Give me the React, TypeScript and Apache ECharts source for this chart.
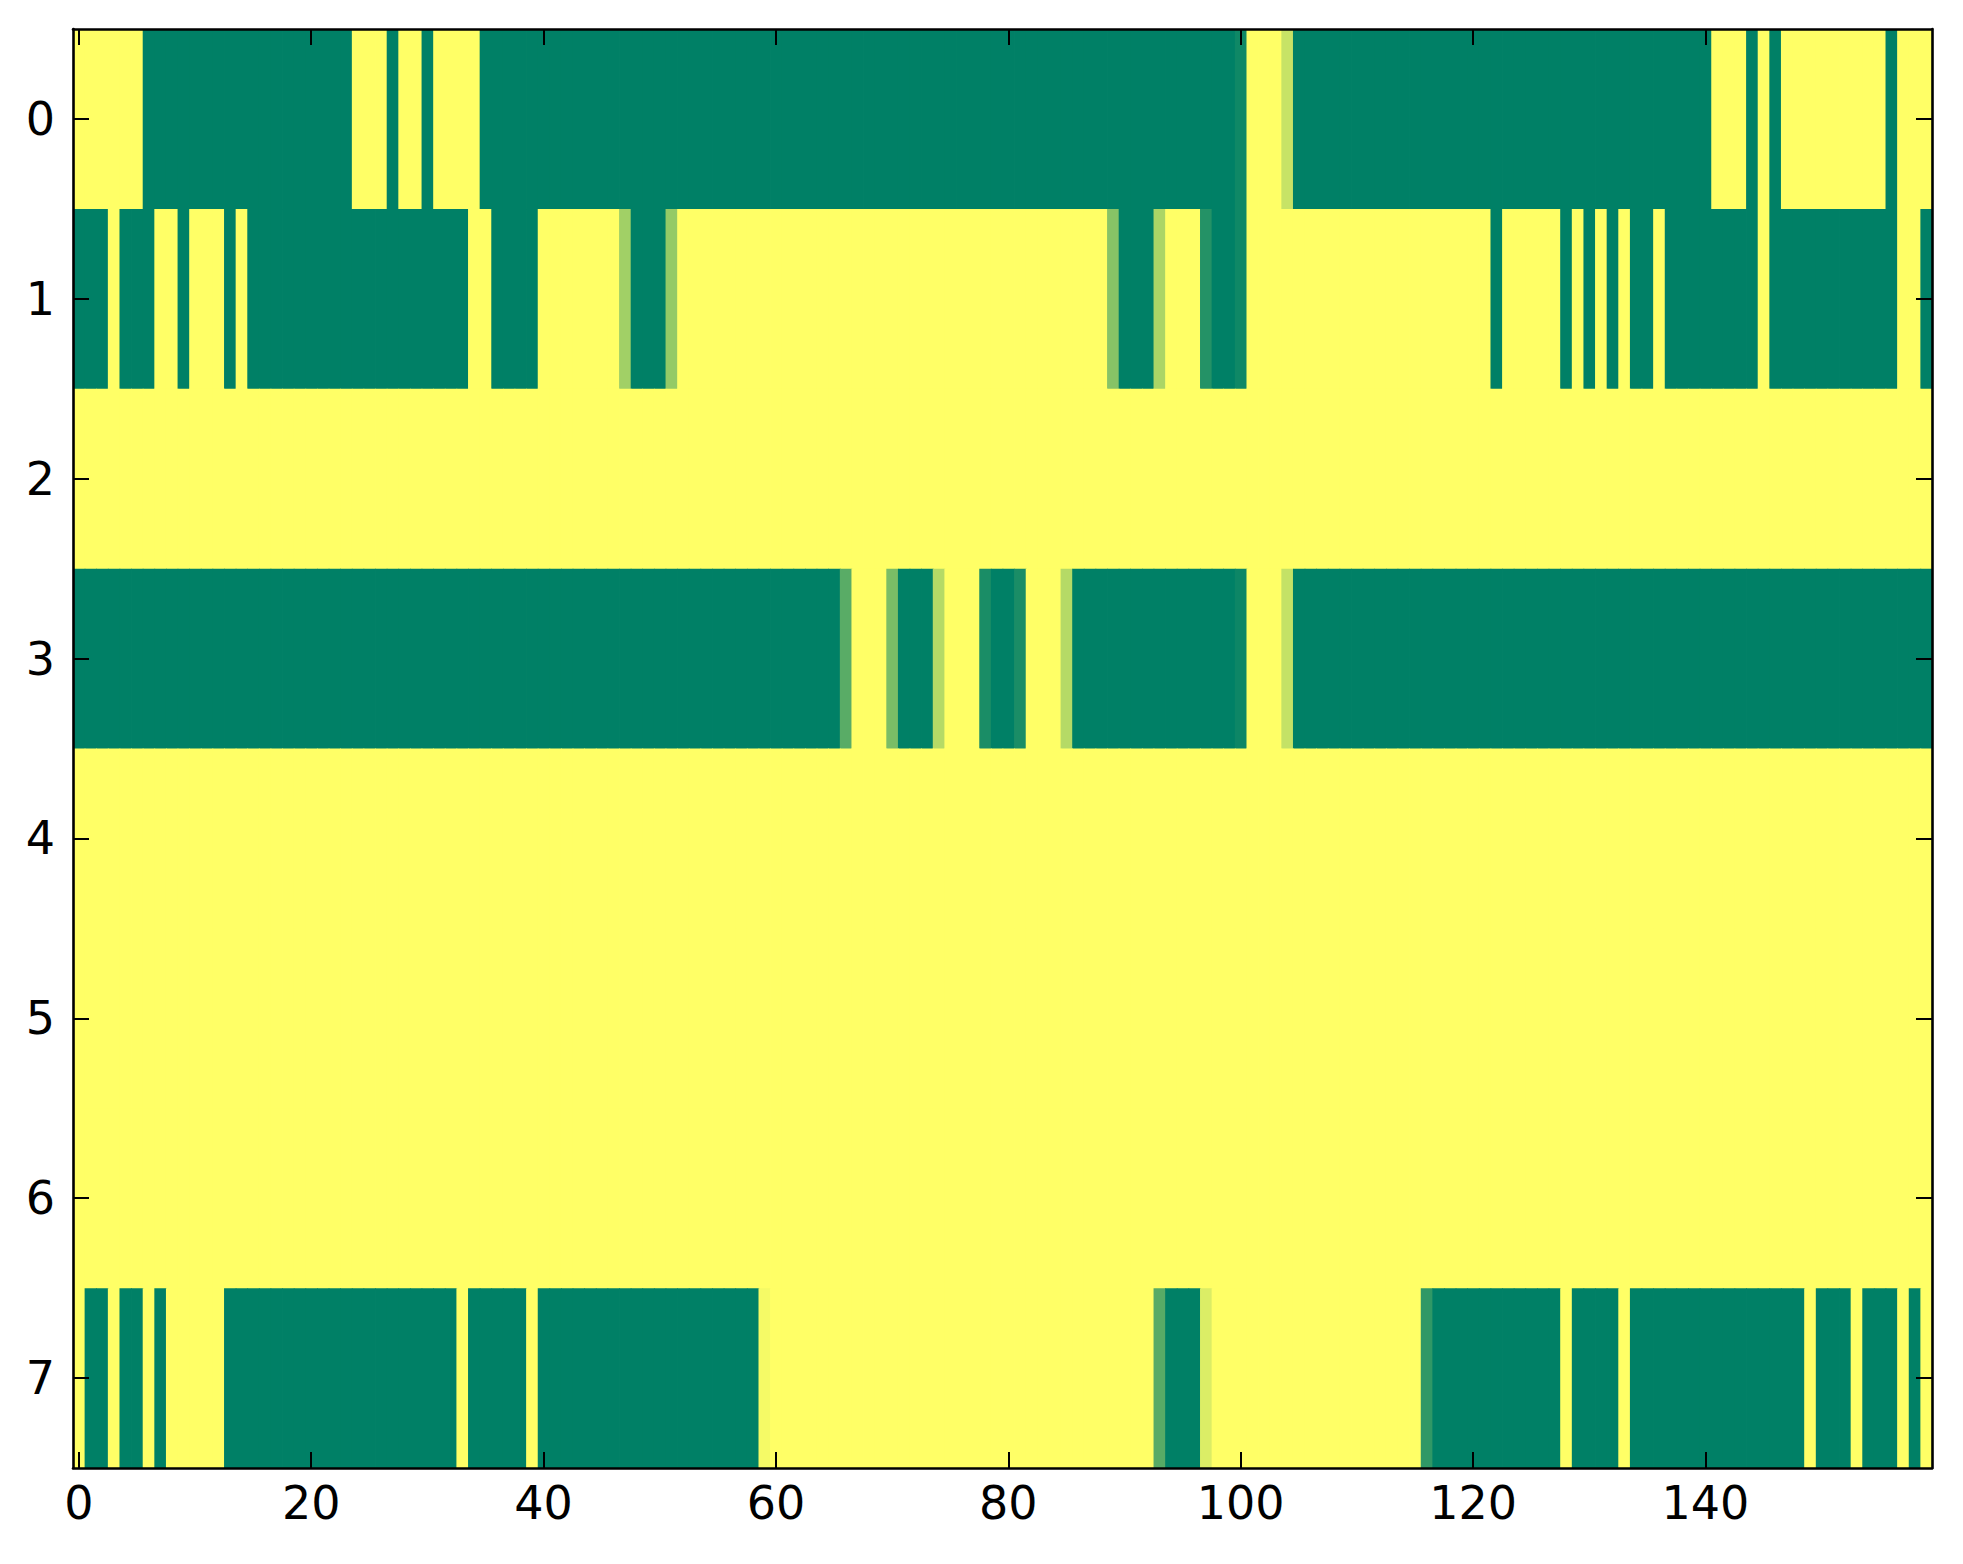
import React, { useEffect, useRef } from "react";
import * as echarts from "echarts";

const xCategories: string[] = [];
for (let i = 0; i < 160; i++) xCategories.push(String(i));
const yCategories = ["0", "1", "2", "3", "4", "5", "6", "7"];

const row0 = [
  1, 1, 1, 1, 1, 1, 0, 0, 0, 0, 0, 0, 0, 0, 0, 0, 0, 0, 0, 0,
  0, 0, 0, 0, 1, 1, 1, 0, 1, 1, 0, 1, 1, 1, 1, 0, 0, 0, 0, 0,
  0, 0, 0, 0, 0, 0, 0, 0, 0, 0, 0, 0, 0, 0, 0, 0, 0, 0, 0, 0,
  0, 0, 0, 0, 0, 0, 0, 0, 0, 0, 0, 0, 0, 0, 0, 0, 0, 0, 0, 0,
  0, 0, 0, 0, 0, 0, 0, 0, 0, 0, 0, 0, 0, 0, 0, 0, 0, 0, 0, 0,
  0.06, 1, 1, 1, 0.78, 0, 0, 0, 0, 0, 0, 0, 0, 0, 0, 0, 0, 0, 0, 0,
  0, 0, 0, 0, 0, 0, 0, 0, 0, 0, 0, 0, 0, 0, 0, 0, 0, 0, 0, 0,
  0, 1, 1, 1, 0, 1, 0, 1, 1, 1, 1, 1, 1, 1, 1, 1, 0, 1, 1, 1,
];
const row1 = [
  0, 0, 0, 1, 0, 0, 0, 1, 1, 0, 1, 1, 1, 0, 1, 0, 0, 0, 0, 0,
  0, 0, 0, 0, 0, 0, 0, 0, 0, 0, 0, 0, 0, 0, 1, 1, 0, 0, 0, 0,
  1, 1, 1, 1, 1, 1, 1, 0.63, 0, 0, 0, 0.58, 1, 1, 1, 1, 1, 1, 1, 1,
  1, 1, 1, 1, 1, 1, 1, 1, 1, 1, 1, 1, 1, 1, 1, 1, 1, 1, 1, 1,
  1, 1, 1, 1, 1, 1, 1, 1, 1, 0.53, 0, 0, 0, 0.67, 1, 1, 1, 0.14, 0, 0,
  0.06, 1, 1, 1, 1, 1, 1, 1, 1, 1, 1, 1, 1, 1, 1, 1, 1, 1, 1, 1,
  1, 1, 0, 1, 1, 1, 1, 1, 0, 1, 0, 1, 0, 1, 0, 0, 1, 0, 0, 0,
  0, 0, 0, 0, 0, 1, 0, 0, 0, 0, 0, 0, 0, 0, 0, 0, 0, 1, 1, 0,
];
const row2 = [
  1, 1, 1, 1, 1, 1, 1, 1, 1, 1, 1, 1, 1, 1, 1, 1, 1, 1, 1, 1,
  1, 1, 1, 1, 1, 1, 1, 1, 1, 1, 1, 1, 1, 1, 1, 1, 1, 1, 1, 1,
  1, 1, 1, 1, 1, 1, 1, 1, 1, 1, 1, 1, 1, 1, 1, 1, 1, 1, 1, 1,
  1, 1, 1, 1, 1, 1, 1, 1, 1, 1, 1, 1, 1, 1, 1, 1, 1, 1, 1, 1,
  1, 1, 1, 1, 1, 1, 1, 1, 1, 1, 1, 1, 1, 1, 1, 1, 1, 1, 1, 1,
  1, 1, 1, 1, 1, 1, 1, 1, 1, 1, 1, 1, 1, 1, 1, 1, 1, 1, 1, 1,
  1, 1, 1, 1, 1, 1, 1, 1, 1, 1, 1, 1, 1, 1, 1, 1, 1, 1, 1, 1,
  1, 1, 1, 1, 1, 1, 1, 1, 1, 1, 1, 1, 1, 1, 1, 1, 1, 1, 1, 1,
];
const row3 = [
  0, 0, 0, 0, 0, 0, 0, 0, 0, 0, 0, 0, 0, 0, 0, 0, 0, 0, 0, 0,
  0, 0, 0, 0, 0, 0, 0, 0, 0, 0, 0, 0, 0, 0, 0, 0, 0, 0, 0, 0,
  0, 0, 0, 0, 0, 0, 0, 0, 0, 0, 0, 0, 0, 0, 0, 0, 0, 0, 0, 0,
  0, 0, 0, 0, 0, 0, 0.35, 1, 1, 1, 0.48, 0, 0, 0, 0.71, 1, 1, 1, 0.1, 0,
  0, 0.1, 1, 1, 1, 0.71, 0, 0, 0, 0, 0, 0, 0, 0, 0, 0, 0, 0, 0, 0,
  0.05, 1, 1, 1, 0.77, 0, 0, 0, 0, 0, 0, 0, 0, 0, 0, 0, 0, 0, 0, 0,
  0, 0, 0, 0, 0, 0, 0, 0, 0, 0, 0, 0, 0, 0, 0, 0, 0, 0, 0, 0,
  0, 0, 0, 0, 0, 0, 0, 0, 0, 0, 0, 0, 0, 0, 0, 0, 0, 0, 0, 0,
];
const row4 = [
  1, 1, 1, 1, 1, 1, 1, 1, 1, 1, 1, 1, 1, 1, 1, 1, 1, 1, 1, 1,
  1, 1, 1, 1, 1, 1, 1, 1, 1, 1, 1, 1, 1, 1, 1, 1, 1, 1, 1, 1,
  1, 1, 1, 1, 1, 1, 1, 1, 1, 1, 1, 1, 1, 1, 1, 1, 1, 1, 1, 1,
  1, 1, 1, 1, 1, 1, 1, 1, 1, 1, 1, 1, 1, 1, 1, 1, 1, 1, 1, 1,
  1, 1, 1, 1, 1, 1, 1, 1, 1, 1, 1, 1, 1, 1, 1, 1, 1, 1, 1, 1,
  1, 1, 1, 1, 1, 1, 1, 1, 1, 1, 1, 1, 1, 1, 1, 1, 1, 1, 1, 1,
  1, 1, 1, 1, 1, 1, 1, 1, 1, 1, 1, 1, 1, 1, 1, 1, 1, 1, 1, 1,
  1, 1, 1, 1, 1, 1, 1, 1, 1, 1, 1, 1, 1, 1, 1, 1, 1, 1, 1, 1,
];
const row5 = [
  1, 1, 1, 1, 1, 1, 1, 1, 1, 1, 1, 1, 1, 1, 1, 1, 1, 1, 1, 1,
  1, 1, 1, 1, 1, 1, 1, 1, 1, 1, 1, 1, 1, 1, 1, 1, 1, 1, 1, 1,
  1, 1, 1, 1, 1, 1, 1, 1, 1, 1, 1, 1, 1, 1, 1, 1, 1, 1, 1, 1,
  1, 1, 1, 1, 1, 1, 1, 1, 1, 1, 1, 1, 1, 1, 1, 1, 1, 1, 1, 1,
  1, 1, 1, 1, 1, 1, 1, 1, 1, 1, 1, 1, 1, 1, 1, 1, 1, 1, 1, 1,
  1, 1, 1, 1, 1, 1, 1, 1, 1, 1, 1, 1, 1, 1, 1, 1, 1, 1, 1, 1,
  1, 1, 1, 1, 1, 1, 1, 1, 1, 1, 1, 1, 1, 1, 1, 1, 1, 1, 1, 1,
  1, 1, 1, 1, 1, 1, 1, 1, 1, 1, 1, 1, 1, 1, 1, 1, 1, 1, 1, 1,
];
const row6 = [
  1, 1, 1, 1, 1, 1, 1, 1, 1, 1, 1, 1, 1, 1, 1, 1, 1, 1, 1, 1,
  1, 1, 1, 1, 1, 1, 1, 1, 1, 1, 1, 1, 1, 1, 1, 1, 1, 1, 1, 1,
  1, 1, 1, 1, 1, 1, 1, 1, 1, 1, 1, 1, 1, 1, 1, 1, 1, 1, 1, 1,
  1, 1, 1, 1, 1, 1, 1, 1, 1, 1, 1, 1, 1, 1, 1, 1, 1, 1, 1, 1,
  1, 1, 1, 1, 1, 1, 1, 1, 1, 1, 1, 1, 1, 1, 1, 1, 1, 1, 1, 1,
  1, 1, 1, 1, 1, 1, 1, 1, 1, 1, 1, 1, 1, 1, 1, 1, 1, 1, 1, 1,
  1, 1, 1, 1, 1, 1, 1, 1, 1, 1, 1, 1, 1, 1, 1, 1, 1, 1, 1, 1,
  1, 1, 1, 1, 1, 1, 1, 1, 1, 1, 1, 1, 1, 1, 1, 1, 1, 1, 1, 1,
];
const row7 = [
  1, 0, 0, 1, 0, 0, 1, 0, 1, 1, 1, 1, 1, 0, 0, 0, 0, 0, 0, 0,
  0, 0, 0, 0, 0, 0, 0, 0, 0, 0, 0, 0, 0, 1, 0, 0, 0, 0, 0, 1,
  0, 0, 0, 0, 0, 0, 0, 0, 0, 0, 0, 0, 0, 0, 0, 0, 0, 0, 0, 0.96,
  1, 1, 1, 1, 1, 1, 1, 1, 1, 1, 1, 1, 1, 1, 1, 1, 1, 1, 1, 1,
  1, 1, 1, 1, 1, 1, 1, 1, 1, 1, 1, 1, 1, 0.34, 0, 0, 0, 0.86, 1, 1,
  1, 1, 1, 1, 1, 1, 1, 1, 1, 1, 1, 1, 1, 1, 1, 1, 0.19, 0, 0, 0,
  0, 0, 0, 0, 0, 0, 0, 0, 1, 0, 0, 0, 0, 1, 0, 0, 0, 0, 0, 0,
  0, 0, 0, 0, 0, 0, 0, 0, 0, 1, 0, 0, 0, 1, 0, 0, 0, 1, 0, 1,
];

const rows = [row0, row1, row2, row3, row4, row5, row6, row7];
const xTickLabels = ["0", "20", "40", "60", "80", "100", "120", "140"];

const FONT = "'DejaVu Sans', sans-serif";

export default function App() {
  const ref = useRef<HTMLDivElement>(null);

  useEffect(() => {
    if (!ref.current) return;
    const chart = echarts.init(ref.current, undefined, { renderer: "svg" });

    const data: [number, number, number][] = [];
    rows.forEach((r, y) => r.forEach((v, x) => data.push([x, y, v])));

    const showTick = (i: number) => xTickLabels.indexOf(xCategories[i]) >= 0;

    const axisLine = { show: true, lineStyle: { color: "#000", width: 2.6 } };
    const tickStyle = { color: "#000", width: 2 };

    chart.setOption({
      animation: false,
      backgroundColor: "#fff",
      grid: { left: 65, top: 21, width: 1859, height: 1439, containLabel: false },
      visualMap: {
        type: "continuous",
        show: false,
        min: 0,
        max: 1,
        dimension: 2,
        seriesIndex: 0,
        inRange: { color: ["#008066", "#ffff66"] },
      },
      xAxis: [
        {
          type: "category",
          data: xCategories,
          position: "bottom",
          z: 10,
          axisLine,
          axisTick: { show: true, inside: true, length: 16, alignWithLabel: true, interval: showTick, lineStyle: tickStyle },
          axisLabel: { show: true, interval: showTick, fontSize: 46, color: "#000", fontFamily: FONT, margin: 12 },
          splitLine: { show: false },
        },
        {
          type: "category",
          data: xCategories,
          position: "top",
          z: 10,
          axisLine,
          axisTick: { show: true, inside: true, length: 16, alignWithLabel: true, interval: showTick, lineStyle: tickStyle },
          axisLabel: { show: false },
          splitLine: { show: false },
        },
      ],
      yAxis: [
        {
          type: "category",
          data: yCategories,
          inverse: true,
          position: "left",
          z: 10,
          axisLine,
          axisTick: { show: true, inside: true, length: 16, alignWithLabel: true, lineStyle: tickStyle },
          axisLabel: { show: true, fontSize: 46, color: "#000", fontFamily: FONT, margin: 18 },
          splitLine: { show: false },
        },
        {
          type: "category",
          data: yCategories,
          inverse: true,
          position: "right",
          z: 10,
          axisLine,
          axisTick: { show: true, inside: true, length: 16, alignWithLabel: true, lineStyle: tickStyle },
          axisLabel: { show: false },
          splitLine: { show: false },
        },
      ],
      series: [
        {
          type: "custom",
          xAxisIndex: 0,
          yAxisIndex: 0,
          data,
          encode: { x: 0, y: 1 },
          clip: true,
          renderItem: (params: any, api: any) => {
            const p = api.coord([api.value(0), api.value(1)]);
            const s = api.size([1, 1]);
            return {
              type: "rect",
              shape: { x: p[0] - s[0] / 2, y: p[1] - s[1] / 2, width: s[0] + 0.8, height: s[1] + 0.8 },
              style: { fill: api.visual("color") },
            };
          },
        },
      ],
    });

    return () => chart.dispose();
  }, []);

  return <div ref={ref} style={{ width: 1947, height: 1540 }} />;
}
